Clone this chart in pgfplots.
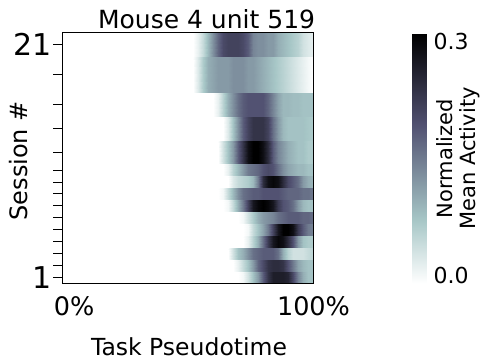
\documentclass[border=0pt]{standalone}
\usepackage{fontspec}
\setmainfont{DejaVu Sans}
\usepackage{pgfplots}
\usepackage{pgfplotstable}
\pgfplotsset{compat=1.18}

% Mean activity per session band (columns s1 = session 1 ... s15 = top band)
% sampled along task pseudotime (x, percent).
\pgfplotstableread{
x   s1   s2   s3   s4   s5   s6   s7   s8   s9   s10  s11  s12  s13   s14  s15
0   0    0    0    0    0    0    0    0    0    0    0    0    0     0    0
50  0    0    0    0    0    0    0    0    0    0    0    0    0     0    0
52  0    0    0    0    0    0    0    0    0    0    0    0    0     0    0
54  0    0    0    0    0    0    0    0    0    0    0    0    0     0.03 0.02
56  0    0    0    0    0    0    0    0    0    0    0    0    0     0.07 0.05
58  0    0    0    0    0    0    0    0    0    0    0    0    0     0.10 0.09
60  0    0    0    0    0    0    0    0    0    0    0    0    0     0.11 0.13
62  0    0    0    0    0    0    0    0    0    0    0    0    0.02  0.12 0.17
64  0    0    0    0    0    0    0    0.01 0    0    0.04 0    0.06  0.12 0.20
66  0    0    0    0    0    0    0.01 0.05 0    0.02 0.08 0.03 0.10  0.12 0.21
68  0    0    0.04 0    0    0    0.05 0.09 0.03 0.06 0.12 0.08 0.13  0.13 0.21
70  0    0.02 0.08 0    0    0    0.10 0.13 0.05 0.09 0.18 0.13 0.16  0.13 0.21
72  0.01 0.05 0.10 0    0    0.01 0.15 0.16 0.06 0.12 0.23 0.18 0.18  0.13 0.20
74  0.04 0.08 0.13 0.02 0.01 0.04 0.21 0.17 0.07 0.15 0.28 0.21 0.19  0.12 0.18
76  0.08 0.12 0.16 0.06 0.05 0.07 0.27 0.18 0.09 0.16 0.30 0.23 0.19  0.12 0.14
78  0.12 0.17 0.17 0.10 0.08 0.10 0.29 0.18 0.15 0.17 0.30 0.23 0.19  0.11 0.13
80  0.18 0.20 0.18 0.16 0.11 0.12 0.30 0.19 0.24 0.19 0.28 0.23 0.19  0.10 0.13
82  0.23 0.23 0.18 0.22 0.15 0.13 0.29 0.19 0.28 0.20 0.24 0.21 0.17  0.09 0.12
84  0.26 0.24 0.18 0.27 0.21 0.14 0.27 0.19 0.29 0.19 0.18 0.16 0.14  0.08 0.12
86  0.26 0.24 0.16 0.29 0.27 0.16 0.22 0.19 0.28 0.16 0.14 0.12 0.11  0.07 0.10
88  0.26 0.23 0.10 0.28 0.30 0.17 0.19 0.18 0.24 0.13 0.12 0.09 0.09  0.06 0.09
90  0.25 0.19 0.06 0.24 0.30 0.18 0.18 0.17 0.20 0.11 0.10 0.08 0.09  0.05 0.08
92  0.20 0.15 0.04 0.19 0.28 0.18 0.16 0.17 0.18 0.10 0.09 0.08 0.085 0.04 0.07
94  0.14 0.11 0.04 0.12 0.22 0.18 0.12 0.17 0.16 0.09 0.08 0.08 0.085 0.03 0.06
96  0.10 0.09 0.04 0.08 0.18 0.17 0.09 0.16 0.12 0.09 0.08 0.08 0.08  0.02 0.04
98  0.08 0.08 0.05 0.07 0.15 0.17 0.08 0.16 0.10 0.08 0.07 0.075 0.08 0.01 0.03
100 0.08 0.08 0.06 0.07 0.14 0.16 0.08 0.15 0.09 0.08 0.07 0.07 0.08  0    0.02
}\heat

% two copies of the samples: lower and upper edge of every band
\pgfplotstablevertcat{\heatmesh}{\heat}
\pgfplotstablevertcat{\heatmesh}{\heat}

% \band{lower edge}{upper edge}{column}
\newcommand\band[3]{%
  \addplot[surf, shader=interp, mesh/cols=27, point meta=explicit]
    table[x=x, y expr={\coordindex<27 ? #1 : #2}, meta=#3] {\heatmesh};
}

\begin{document}
\begin{tikzpicture}
\useasboundingbox (-62.5pt,-79.5pt) rectangle (419.5pt,283.5pt);
\begin{axis}[
  scale only axis,
  width=251pt, height=251pt,
  xmin=0, xmax=100, ymin=0.5, ymax=21.5,
  axis on top,
  axis line style={line width=0.9pt},
  colormap={boner}{rgb(0pt)=(1,1,1); rgb(254pt)=(0.653,0.778,0.778);
                   rgb(635pt)=(0.319,0.319,0.444); rgb(1000pt)=(0,0,0)},
  point meta min=0, point meta max=0.3,
  xtick={4.6,100}, xticklabels={0\%,100\%},
  ytick={1,2,3,4,5,6,7,8,9,10,11.5,13.5,15.5,18,20.5},
  yticklabels={1,{},{},{},{},{},{},{},{},{},{},{},{},{},21},
  tick align=outside,
  major tick length=9pt,
  xtick style={draw=none},
  ytick style={line width=0.8pt, black},
  ytick pos=left, xtick pos=bottom,
  xticklabel style={font=\fontsize{25.5}{30}\selectfont},
  xticklabel shift=1pt,
  yticklabel style={font=\fontsize{30}{36}\selectfont, inner xsep=2pt},
  title={Mouse 4 unit 519},
  every axis title/.style={at={(axis description cs:0.574,1.016)}, anchor=base,
    font=\fontsize{25}{30}\selectfont},
  xlabel={Task Pseudotime},
  every axis x label/.style={at={(axis description cs:0.504,-0.285)}, anchor=base,
    font=\fontsize{23.5}{28}\selectfont},
  ylabel={Session \#},
  every axis y label/.style={at={(axis description cs:-0.176,0.489)}, anchor=center,
    rotate=90, font=\fontsize{24}{29}\selectfont},
  colorbar,
  colorbar style={
    at={(parent axis.north east)}, anchor=north west,
    xshift=90.5pt, yshift=-1pt,
    scale only axis, width=17pt, height=250pt,
    axis line style={draw=none},
    ytick={0.0102,0.2902}, yticklabels={0.0,0.3},
    major tick length=0pt, ytick style={draw=none},
    yticklabel style={font=\fontsize{22}{26}\selectfont, inner xsep=3.8pt},
    ylabel={Normalized\\Mean Activity},
    every axis y label/.style={at={(axis description cs:2.7,0.5)}, anchor=center,
      rotate=90, align=center, font=\fontsize{21}{23.5}\selectfont},
  },
]
\band{0.5}{1.5}{s1}
\band{1.5}{2.5}{s2}
\band{2.5}{3.5}{s3}
\band{3.5}{4.5}{s4}
\band{4.5}{5.5}{s5}
\band{5.5}{6.5}{s6}
\band{6.5}{7.5}{s7}
\band{7.5}{8.5}{s8}
\band{8.5}{9.5}{s9}
\band{9.5}{10.5}{s10}
\band{10.5}{12.5}{s11}
\band{12.5}{14.5}{s12}
\band{14.5}{16.5}{s13}
\band{16.5}{19.5}{s14}
\band{19.5}{21.5}{s15}
\end{axis}
\end{tikzpicture}
\end{document}
